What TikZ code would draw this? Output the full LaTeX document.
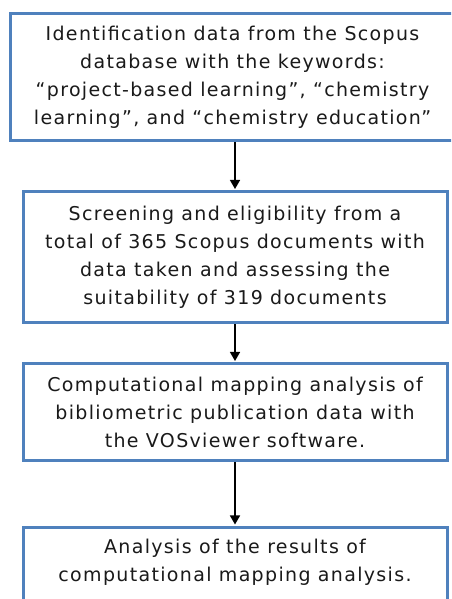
\documentclass[tikz,border=0pt]{standalone}
\usepackage{fontspec}
\setmainfont{DejaVu Sans}[LetterSpace=7]
\usetikzlibrary{arrows.meta}
\definecolor{boxblue}{HTML}{4F81BD}
\definecolor{ink}{HTML}{1A1A1A}
\begin{document}
\begin{tikzpicture}[x=1pt,y=1pt,
  stage/.style={draw=boxblue, line width=3pt, fill=white, text=ink,
    font=\fontsize{19}{28}\selectfont, align=center, inner sep=0pt},
  flow/.style={-{Triangle[width=10pt,length=9pt]}, line width=1.4pt, draw=black, shorten >=1.5pt}]
\useasboundingbox (0,0) rectangle (451,599);
\fill[white] (0,0) rectangle (451,599);
\clip (0,0) rectangle (451,599);

% process stages, top to bottom
\node[stage, minimum width=445pt, minimum height=127pt] (b1) at (232.5,521.5)
  {Identification data from the Scopus\\database with the keywords:\\``project-based learning'', ``chemistry\\learning'', and ``chemistry education''};
\node[stage, minimum width=424pt, minimum height=131pt] (b2) at (235,341.5)
  {Screening and eligibility from a\\total of 365 Scopus documents with\\data taken and assessing the\\suitability of 319 documents};
\node[stage, minimum width=424pt, minimum height=97pt] (b3) at (235,186.5)
  {Computational mapping analysis of\\bibliometric publication data with\\the VOSviewer software.};
\node[stage, anchor=north, minimum width=424pt, inner ysep=12pt, text depth=30pt] (b4) at (235,73)
  {Analysis of the results of\\computational mapping analysis.};

% connectors
\draw[flow] (b1.south -| b2.north) -- (b2.north);
\draw[flow] (b2.south) -- (b3.north);
\draw[flow] (b3.south) -- (b4.north);
\end{tikzpicture}
\end{document}
